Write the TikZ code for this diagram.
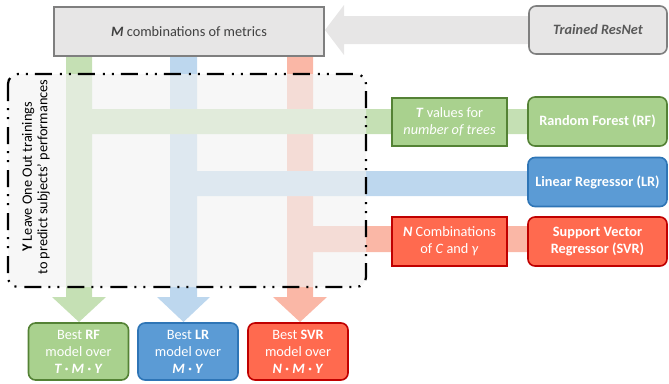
\documentclass[tikz,border=0pt]{standalone}
\usepackage{fontspec}
\setmainfont{Carlito}
\usetikzlibrary{positioning}
\definecolor{boxgray}{HTML}{E7E6E6}
\definecolor{bordgray}{HTML}{7F7F7F}
\definecolor{txtgray}{HTML}{404040}
\definecolor{txtgray2}{HTML}{595959}
\definecolor{gfill}{HTML}{A9D18E}
\definecolor{gbord}{HTML}{548235}
\definecolor{bfill}{HTML}{5B9BD5}
\definecolor{bbord}{HTML}{2E75B6}
\definecolor{rfill}{HTML}{FF6A4F}
\definecolor{rbord}{HTML}{C00000}
\definecolor{garrow}{HTML}{C5E0B4}
\definecolor{barrow}{HTML}{BDD7EE}
\definecolor{rarrow}{HTML}{FAB7A6}
\definecolor{dbox}{HTML}{F2F2F2}
\tikzset{
  base/.style={font=\fontsize{14.3}{17}\selectfont, align=center, inner sep=0pt, line width=1.6pt},
  graybox/.style={base, draw=bordgray, fill=boxgray, text=txtgray},
  greenbox/.style={base, draw=gbord, fill=gfill, text=white},
  bluebox/.style={base, draw=bbord, fill=bfill, text=white},
  redbox/.style={base, draw=rbord, fill=rfill, text=white},
  roundbox/.style={rounded corners=7pt},
  sidebox/.style={minimum width=139pt, minimum height=49pt, roundbox},
  parbox/.style={minimum width=115pt, minimum height=48pt},
  bestbox/.style={minimum width=100pt, minimum height=57pt, roundbox},
}
\begin{document}
\begin{tikzpicture}[x=1pt,y=-1pt]
\useasboundingbox (0,0) rectangle (669,383);
% big gray arrow
\fill[boxgray] (529,16) -- (344,16) -- (344,5) -- (325,30) -- (344,55) -- (344,44) -- (529,44) -- cycle;
% colored flow arrows
\fill[rarrow] (287,56) -- (287,297) -- (273,297) -- (300,322) -- (327,297) -- (313,297) -- (313,252) -- (528,252) -- (528,226) -- (313,226) -- (313,56) -- cycle;
\fill[barrow] (170,56) -- (170,297) -- (157,297) -- (183.5,322) -- (210,297) -- (197,297) -- (197,196) -- (528,196) -- (528,171) -- (197,171) -- (197,56) -- cycle;
\fill[garrow] (66,56) -- (66,297) -- (52,297) -- (79,322) -- (106,297) -- (92,297) -- (92,134) -- (528,134) -- (528,109) -- (92,109) -- (92,56) -- cycle;
% dash-dot box
\draw[fill=dbox, fill opacity=0.64, draw opacity=1, line width=2.2pt, rounded corners=10pt,
      dash pattern=on 17pt off 7pt on 2pt off 7pt on 2pt off 8pt] (8,74) rectangle (366,287);
\node[rotate=90, font=\fontsize{14.3}{15.5}\selectfont, align=center, text=black] (loo) at (36,177)
  {\textbf{Y} Leave One Out trainings\\to predict subjects' performances};
% boxes
\node[graybox, minimum width=270pt, minimum height=49pt] (M) at (189,31.5)
  {\textbf{\textit{M}} combinations of metrics};
\node[graybox, roundbox, minimum width=138pt, minimum height=48pt, text=txtgray2] (res) at (598,30)
  {\textbf{\textit{Trained ResNet}}};
\node[greenbox, parbox] (T) at (449.5,122) {\textbf{\textit{T}} values for\\\textit{number of trees}};
\node[greenbox, sidebox] (rf) at (597.5,121.5) {\textbf{Random Forest (RF)}};
\node[bluebox, sidebox] (lr) at (597.5,182) {\textbf{Linear Regressor (LR)}};
\node[redbox, parbox, minimum height=49pt] (N) at (449.5,241.5) {\textbf{\textit{N}} Combinations\\of \textit{C} and \textit{γ}};
\node[redbox, sidebox] (svr) at (597.5,241.5) {\textbf{Support Vector}\\\textbf{Regressor (SVR)}};
\node[greenbox, bestbox] (brf) at (78.5,351.5) {Best \textbf{RF}\\model over\\\textbf{\textit{T · M · Y}}};
\node[bluebox, bestbox] (blr) at (188,351.5) {Best \textbf{LR}\\model over\\\textbf{\textit{M · Y}}};
\node[redbox, bestbox] (bsvr) at (298,351.5) {Best \textbf{SVR}\\model over\\\textbf{\textit{N · M · Y}}};
\end{tikzpicture}
\end{document}
